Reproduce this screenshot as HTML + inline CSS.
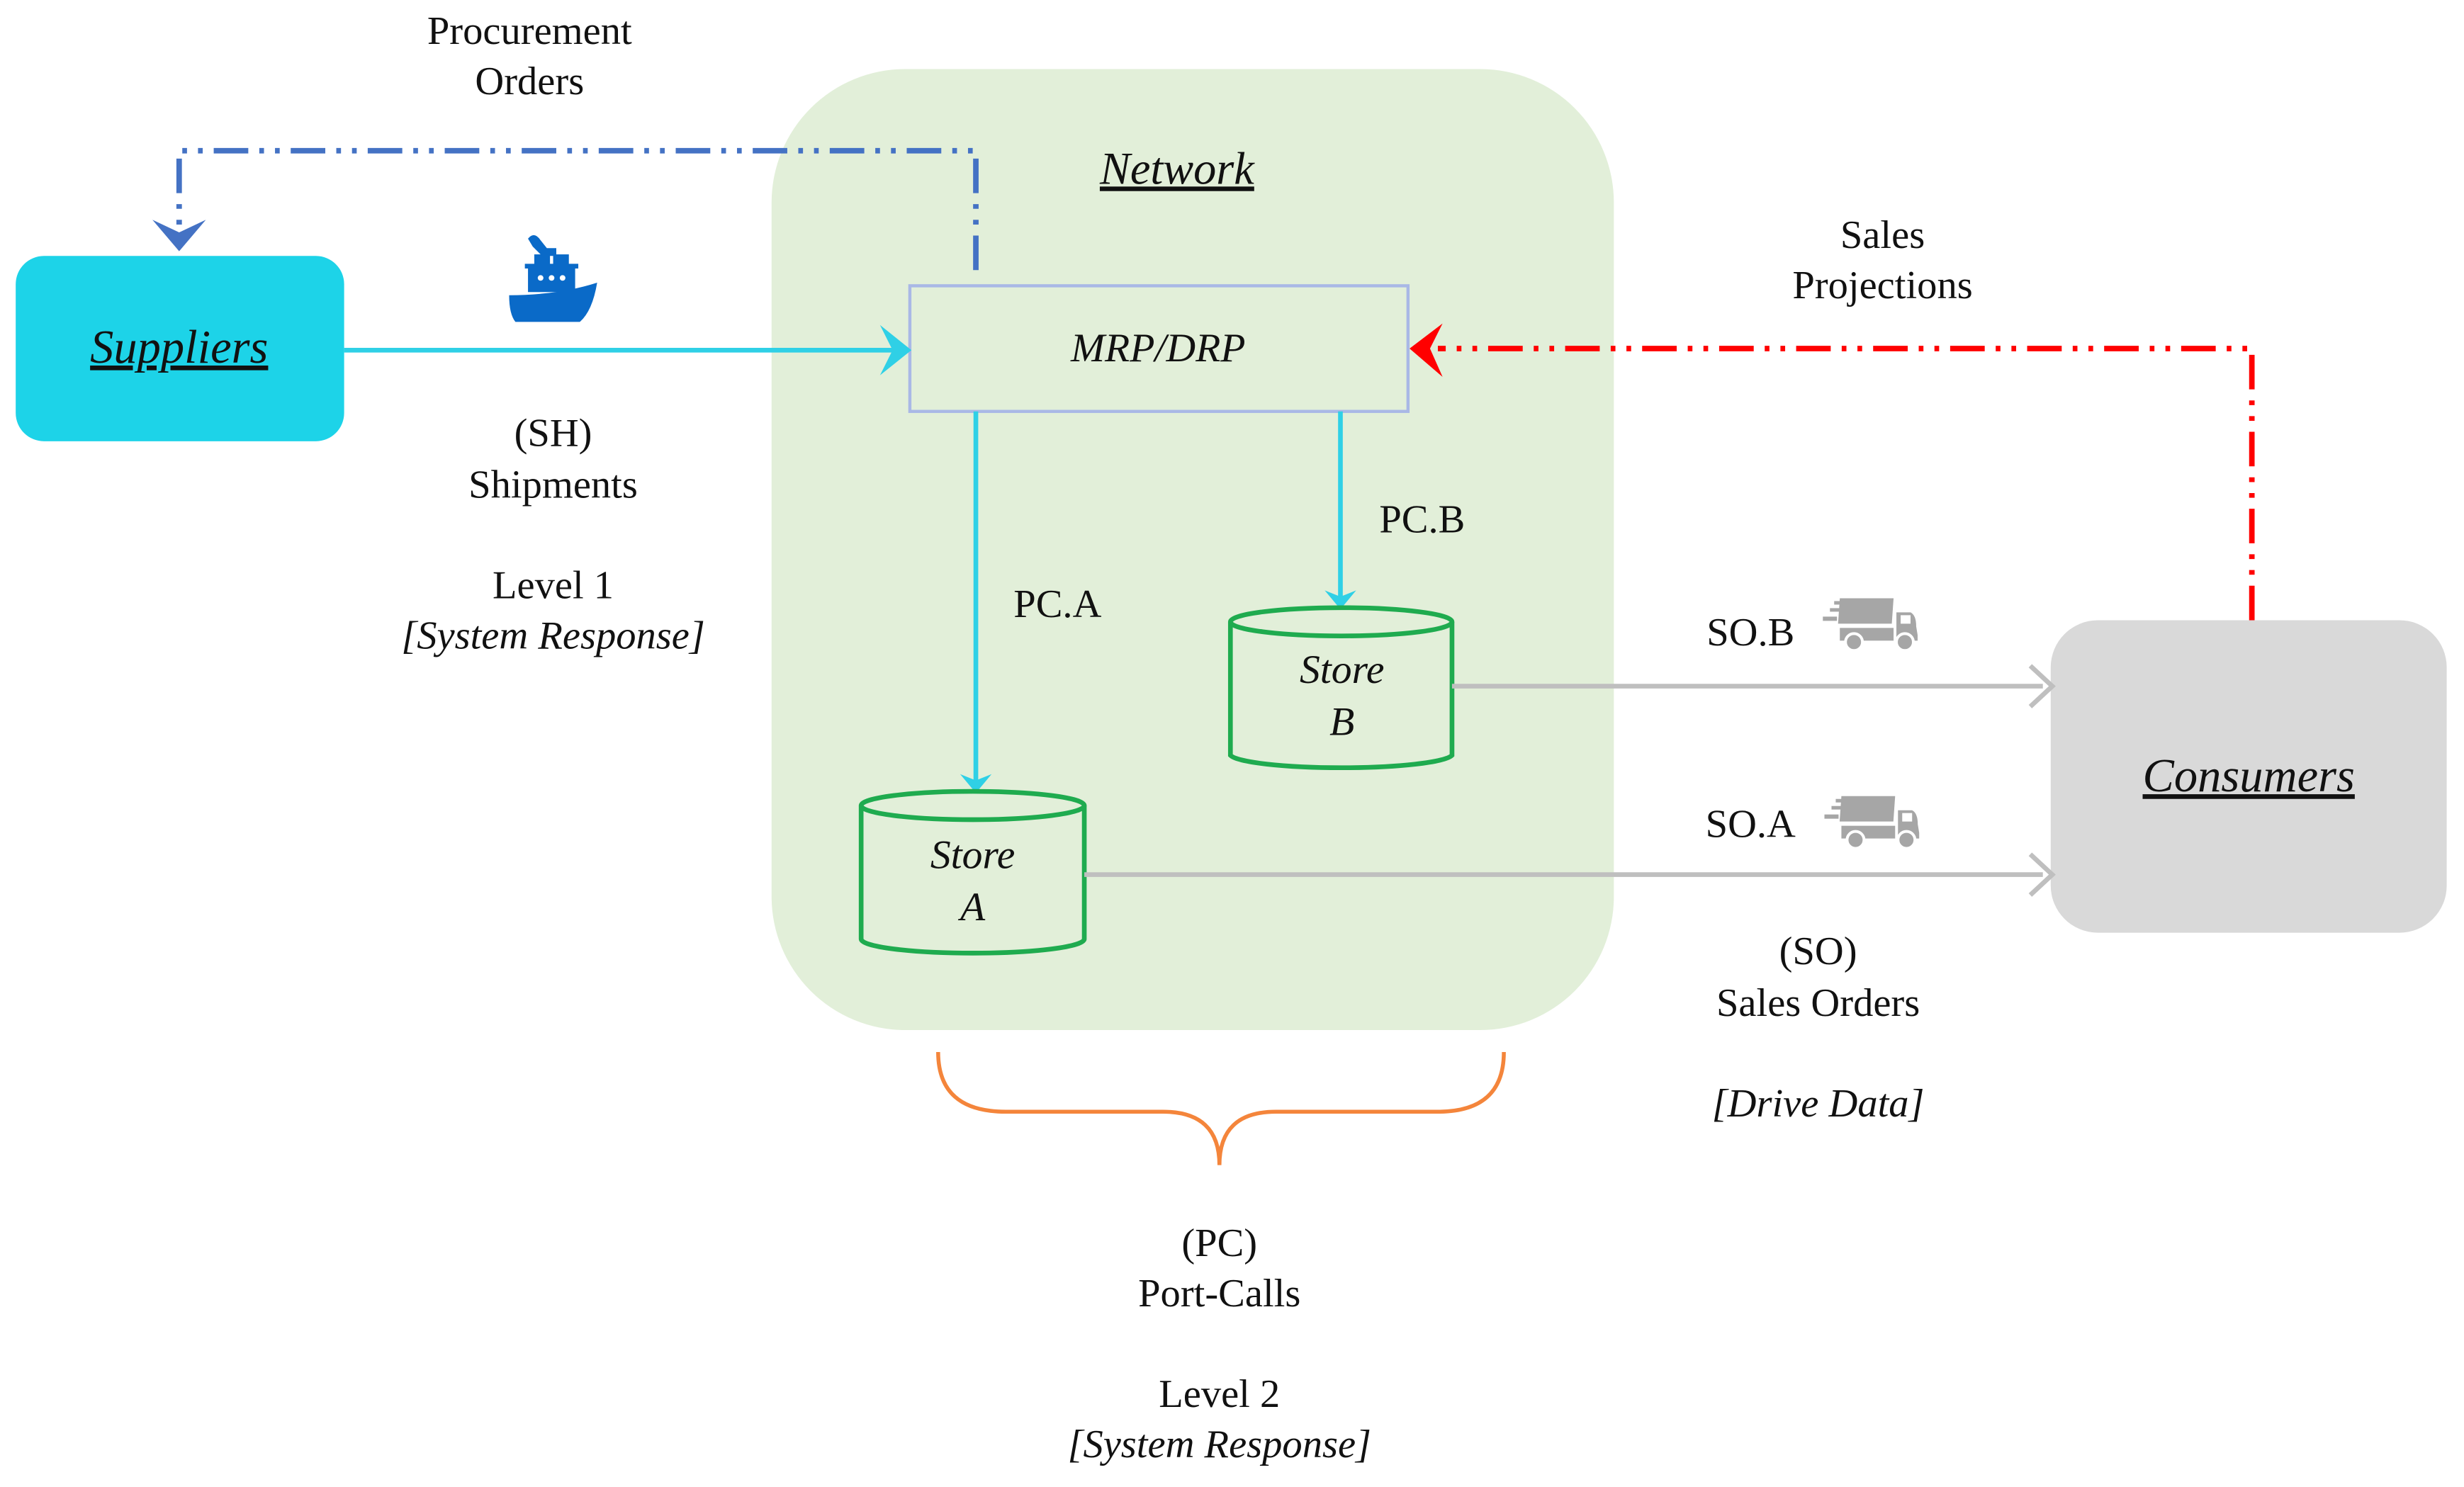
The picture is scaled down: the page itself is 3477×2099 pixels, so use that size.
<!DOCTYPE html>
<html><head><meta charset="utf-8"><style>
html,body{margin:0;padding:0;background:#fff;}
svg{display:block;}
text{font-family:"Liberation Serif",serif;fill:#111;}
</style></head><body>
<svg width="3477" height="2099" viewBox="0 0 1568 947" preserveAspectRatio="none" xmlns="http://www.w3.org/2000/svg">
<defs>
<g id="truck" fill="#a6a6a6">
<rect x="12" y="0" width="38" height="18" transform="skewX(-4)"/>
<rect x="0" y="13" width="10" height="3"/>
<rect x="5" y="7" width="8" height="2.5"/>
<rect x="8" y="2" width="6" height="2.5"/>
<rect x="12" y="21" width="38" height="9"/>
<path d="M52 10 L62 10 Q66 12 66 20 L67 26 L67 30 L52 30 Z"/>
<rect x="55" y="12" width="7" height="6" fill="#fff"/>
<circle cx="22" cy="31" r="6" stroke="#fff" stroke-width="2"/>
<circle cx="58" cy="31" r="6" stroke="#fff" stroke-width="2"/>
</g>
</defs>
<rect x="491" y="44" width="536" height="612" rx="85" fill="#e2efd9"/>
<text x="749" y="117" font-size="29" font-style="italic" text-anchor="middle" text-decoration="underline">Network</text>
<rect x="10" y="163" width="209" height="118" rx="18" fill="#1dd3e8"/>
<text x="114" y="231" font-size="30" font-style="italic" text-anchor="middle" text-decoration="underline">Suppliers</text>
<rect x="1305" y="395" width="252" height="199" rx="30" fill="#d9d9d9"/>
<text x="1431" y="504" font-size="30" font-style="italic" text-anchor="middle" text-decoration="underline">Consumers</text>
<rect x="579" y="182" width="317" height="80" fill="#e2efd9" stroke="#a9b8e6" stroke-width="2"/>
<text x="737" y="230" font-size="26" font-style="italic" text-anchor="middle">MRP/DRP</text>
<line x1="219" y1="223" x2="568" y2="223" stroke="#2fd0e6" stroke-width="3"/>
<path d="M560 207 L580 223 L560 239 L568 223 Z" fill="#2fd0e6"/>
<line x1="621" y1="262" x2="621" y2="500" stroke="#2fd0e6" stroke-width="3"/>
<path d="M611 493 L621 505 L631 493 L621 497 Z" fill="#2fd0e6"/>
<line x1="853" y1="262" x2="853" y2="383" stroke="#2fd0e6" stroke-width="3"/>
<path d="M843 376 L853 388 L863 376 L853 380 Z" fill="#2fd0e6"/>
<g stroke="#1fab4f" stroke-width="3" fill="#e2efd9">
<path d="M548 513 L548 598 A71 9 0 0 0 690 598 L690 513"/>
<ellipse cx="619" cy="513" rx="71" ry="9"/>
<path d="M783 396 L783 481 A71 9 0 0 0 924 481 L924 396"/>
<ellipse cx="853.5" cy="396" rx="70.5" ry="9"/>
</g>
<text x="619" y="553" font-size="26" font-style="italic" text-anchor="middle">Store</text>
<text x="619" y="586" font-size="26" font-style="italic" text-anchor="middle">A</text>
<text x="854" y="435" font-size="26" font-style="italic" text-anchor="middle">Store</text>
<text x="854" y="468" font-size="26" font-style="italic" text-anchor="middle">B</text>
<line x1="924" y1="437" x2="1300" y2="437" stroke="#bfbfbf" stroke-width="3"/>
<path d="M1292 424 L1306 437 L1292 450" fill="none" stroke="#bfbfbf" stroke-width="3"/>
<line x1="690" y1="557" x2="1300" y2="557" stroke="#bfbfbf" stroke-width="3"/>
<path d="M1292 544 L1306 557 L1292 570" fill="none" stroke="#bfbfbf" stroke-width="3"/>
<path d="M621 172 L621 96 L114 96 L114 150" fill="none" stroke="#4472c4" stroke-width="3.5" stroke-dasharray="22 7 3 7 3 7"/>
<path d="M97 140 L114 160 L131 140 L114 148 Z" fill="#4472c4"/>
<path d="M1433 395 L1433 222 L915 222" fill="none" stroke="#ff0000" stroke-width="3.5" stroke-dasharray="22 7 3 7 3 7"/>
<path d="M918 206 L897 222 L918 240 L910 222 Z" fill="#ff0000"/>
<path d="M597 670 Q597 708 640 708 L740 708 Q776 708 776 742 Q776 708 812 708 L915 708 Q957 708 957 670" fill="none" stroke="#f4853b" stroke-width="2.5"/>
<g fill="#0a6ac8">
<path d="M324 188 Q355 188 380 180 Q377 198 369 205 L328 205 Q324 200 324 188 Z"/>
<rect x="336" y="170" width="30" height="16"/>
<rect x="334" y="168" width="34" height="3"/>
<rect x="340" y="162" width="10" height="7"/>
<rect x="352" y="162" width="10" height="7"/>
<path d="M336 152 Q340 147 344 153 L348 158 L354 158 L354 163 L345 163 L339 157 Z"/>
<circle cx="344" cy="177" r="1.8" fill="#fff"/><circle cx="351" cy="177" r="1.8" fill="#fff"/><circle cx="358" cy="177" r="1.8" fill="#fff"/>
</g>
<use href="#truck" transform="translate(1160,381) scale(0.9)"/>
<use href="#truck" transform="translate(1161,507) scale(0.9)"/>
<g font-size="25.5" text-anchor="middle">
<text x="337" y="28">Procurement</text>
<text x="337" y="60">Orders</text>
<text x="352" y="284">(SH)</text>
<text x="352" y="317">Shipments</text>
<text x="352" y="381">Level 1</text>
<text x="352" y="413" font-style="italic">[System Response]</text>
<text x="1198" y="158">Sales</text>
<text x="1198" y="190">Projections</text>
<text x="905" y="339">PC.B</text>
<text x="673" y="393">PC.A</text>
<text x="1114" y="411">SO.B</text>
<text x="1114" y="533">SO.A</text>
<text x="1157" y="614">(SO)</text>
<text x="1157" y="647">Sales Orders</text>
<text x="1157" y="711" font-style="italic">[Drive Data]</text>
<text x="776" y="800">(PC)</text>
<text x="776" y="832">Port-Calls</text>
<text x="776" y="896">Level 2</text>
<text x="776" y="928" font-style="italic">[System Response]</text>
</g>
</svg>
</body></html>
